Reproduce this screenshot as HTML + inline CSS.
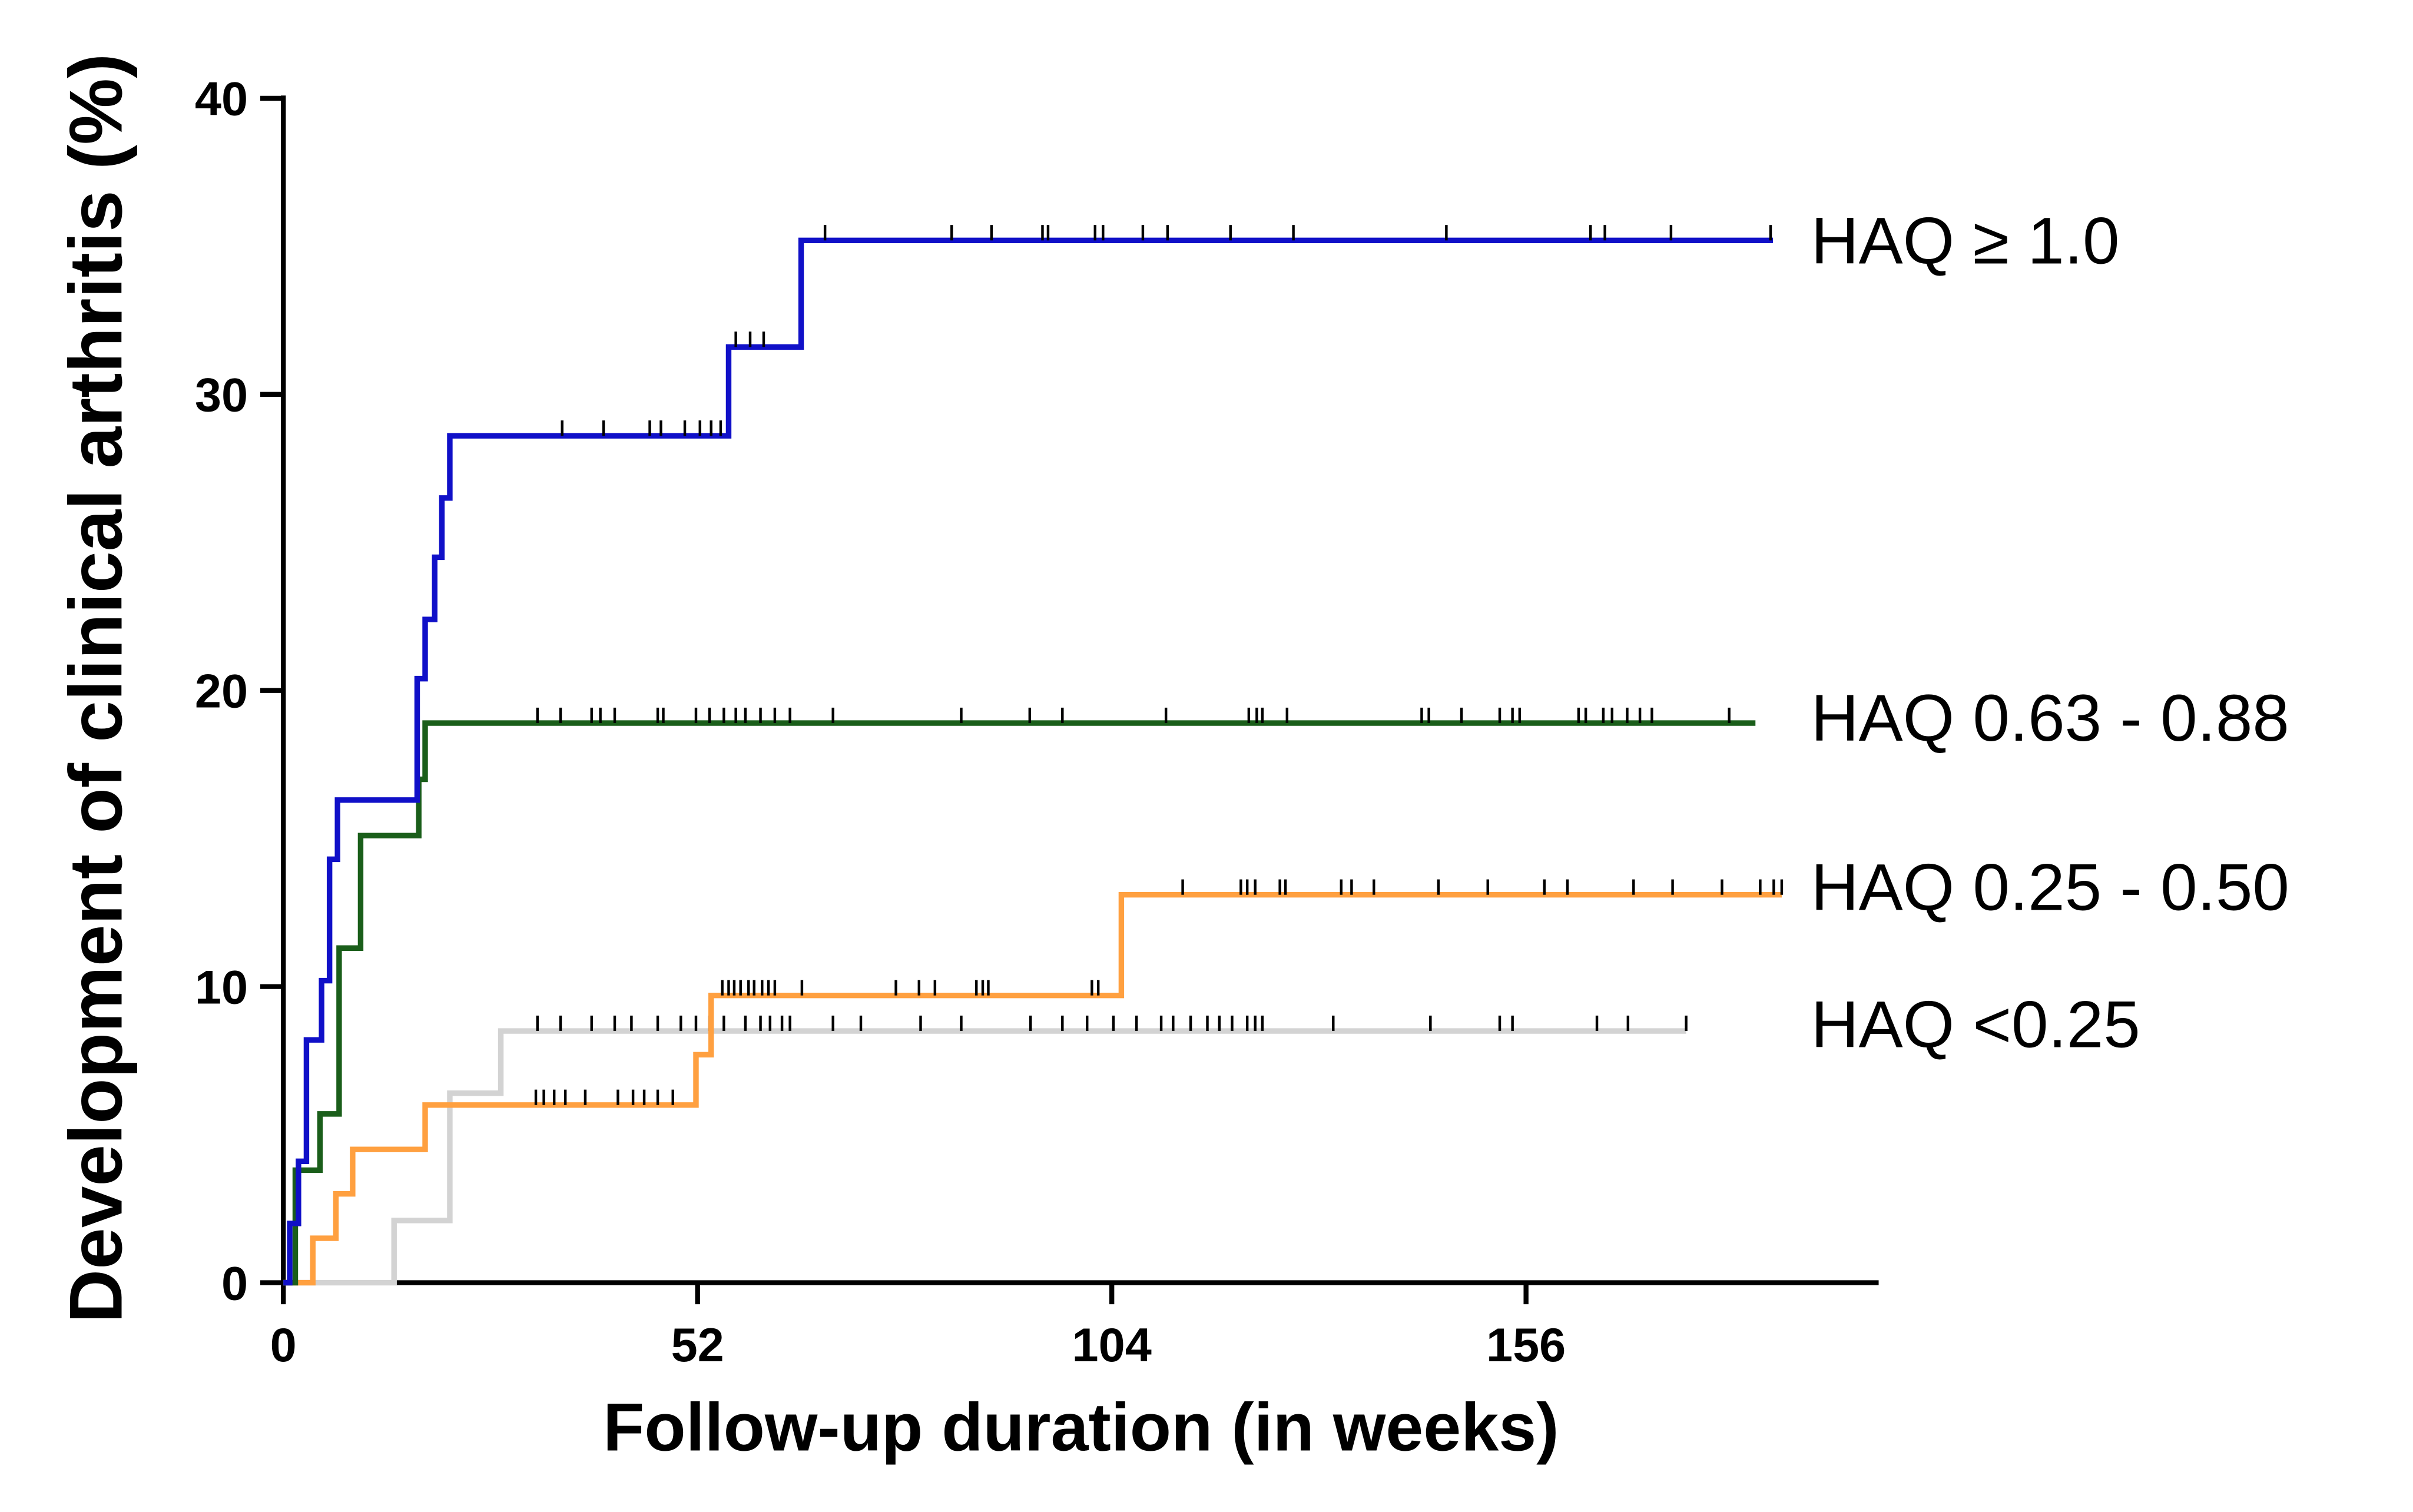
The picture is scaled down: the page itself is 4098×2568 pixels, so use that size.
<!DOCTYPE html>
<html><head><meta charset="utf-8"><style>html,body{margin:0;padding:0;background:#fff}svg{display:block}</style></head>
<body>
<svg id="chart" xmlns="http://www.w3.org/2000/svg" width="4098" height="2568" viewBox="0 0 1567 981.9">
<g id="axes"></g>
<g id="series"></g>
<text transform="translate(79,447) rotate(-90)" text-anchor="middle" font-family="Liberation Sans, sans-serif" font-weight="bold" font-size="48.5">Development of clinical arthritis (%)</text>
<text x="702" y="942" text-anchor="middle" font-family="Liberation Sans, sans-serif" font-weight="bold" font-size="44">Follow-up duration (in weeks)</text>
<g font-family="Liberation Sans, sans-serif" font-size="43" fill="#000">
<text x="1176" y="171">HAQ ≥ 1.0</text>
<text x="1176" y="481">HAQ 0.63 - 0.88</text>
<text x="1176" y="591">HAQ 0.25 - 0.50</text>
<text x="1176" y="680">HAQ &lt;0.25</text>
</g>
</svg>
<script>
const xTicks=[0,52,104,156];
const yTicks=[0,10,20,30,40];
const blueT=[0,0.8,1.9,2.9,4.8,5.8,6.8,16.8,17.8,19,19.9,20.9,55.9,65];
const blueV=[0,2,4.1,8.2,10.2,14.3,16.3,20.4,22.4,24.5,26.5,28.6,31.6,35.2];
const blueEnd=187;
const blueCens=[35,40.2,46,47.4,50.4,52.3,53.7,54.9,56.8,58.6,60.3,68,83.9,88.9,95.3,96,101.9,102.9,107.9,111,118.9,126.8,146,164.1,165.9,174.2,186.7];
const greenT=[0,1.5,4.6,7,9.7,17,17.8];
const greenV=[0,3.8,5.7,11.3,15.1,17,18.9];
const greenEnd=184.8;
const greenCens=[31.9,34.8,38.7,39.8,41.6,47,47.7,51.8,53.5,55.3,56.8,58,59.9,61.7,63.6,69,85.1,93.7,97.8,110.8,121.2,122.2,122.9,126,142.9,143.8,147.9,152.7,154.3,155.2,162.6,163.5,165.7,166.8,168.7,170.3,171.8,181.5];
const orangeT=[0,3.7,6.6,8.7,17.8,51.8,53.7,105.2];
const orangeV=[0,1.5,3.0,4.5,6.0,7.7,9.7,13.1];
const orangeEnd=188.1;
const orangeCens=[31.7,32.7,34,35.4,37.9,42,43.9,45.3,47,48.9,55.1,55.9,56.6,57.4,58.4,59.1,60.1,60.9,61.7,65.1,76.9,79.8,81.8,87,87.8,88.5,101.5,102.3,112.9,120.2,121,122,125.1,125.8,132.8,134.1,136.9,145,151.2,158.3,161.2,169.5,174.4,180.6,185.4,187.1,188.1];
const grayT=[0,13.9,20.9,27.3];
const grayV=[0,2.1,6.4,8.5];
const grayEnd=176.1;
const grayCens=[31.9,34.8,38.7,41.6,43.7,47,49.9,51.8,53.5,55.3,58,59.9,61.1,62.6,63.6,69,72.5,80,85.1,93.8,97.8,100.9,104.2,107.1,110.2,111.7,113.9,116,117.5,119.1,121,122,122.9,131.8,144,152.7,154.3,164.9,168.8,176.1];

const NS="http://www.w3.org/2000/svg";
const X=w=>184+w*269/52;
const Y=p=>833-p*19.23;
function mk(tag,attrs,parent){const e=document.createElementNS(NS,tag);for(const k in attrs)e.setAttribute(k,attrs[k]);parent.appendChild(e);return e;}
const axes=document.getElementById('axes');
let el=mk('line',{x1:184,y1:62,x2:184,y2:834.5,stroke:'#000','stroke-width':3.2},axes);


el=mk('line',{x1:182.5,y1:833,x2:1220,y2:833,stroke:'#000','stroke-width':3.2},axes);


yTicks.forEach(v=>{
  let t=mk('line',{x1:169,x2:184,y1:Y(v),y2:Y(v),stroke:'#000','stroke-width':3.2},axes);
  
  
  let l=mk('text',{x:161,y:Y(v)+11,'text-anchor':'end','font-family':'Liberation Sans, sans-serif','font-weight':'bold','font-size':31},axes);
  l.textContent=v;
  
  
});
xTicks.forEach(v=>{
  let t=mk('line',{x1:X(v),x2:X(v),y1:833,y2:847,stroke:'#000','stroke-width':3.2},axes);
  
  
  let l=mk('text',{x:X(v),y:884,'text-anchor':'middle','font-family':'Liberation Sans, sans-serif','font-weight':'bold','font-size':31},axes);
  l.textContent=v;
  
  
});
const ser=document.getElementById('series');
function drawSeries(name,T,V,end,cens,color){
  const g=mk('g',{},ser);
  
  
  let d='M'+X(T[0])+','+Y(V[0]);
  for(let i=1;i<T.length;i++){d+=' H'+X(T[i])+' V'+Y(V[i]);}
  d+=' H'+X(end);
  const p=mk('path',{d:d,fill:'none',stroke:color,'stroke-width':3.6},g);
  
  
  cens.forEach(c=>{
    let v=V[0];for(let i=0;i<T.length;i++){if(T[i]<=c)v=V[i];}
    const m=mk('line',{x1:X(c),x2:X(c),y1:Y(v)-10,y2:Y(v),stroke:'#000','stroke-width':1.7},g);
    
    
  });
}
drawSeries('series-haq-lt-025',grayT,grayV,grayEnd,grayCens,'#d3d3d3');
drawSeries('series-haq-025-050',orangeT,orangeV,orangeEnd,orangeCens,'#ffa040');
drawSeries('series-haq-063-088',greenT,greenV,greenEnd,greenCens,'#1a5e1a');
drawSeries('series-haq-ge-1',blueT,blueV,blueEnd,blueCens,'#1010c8');
</script>
</body></html>
